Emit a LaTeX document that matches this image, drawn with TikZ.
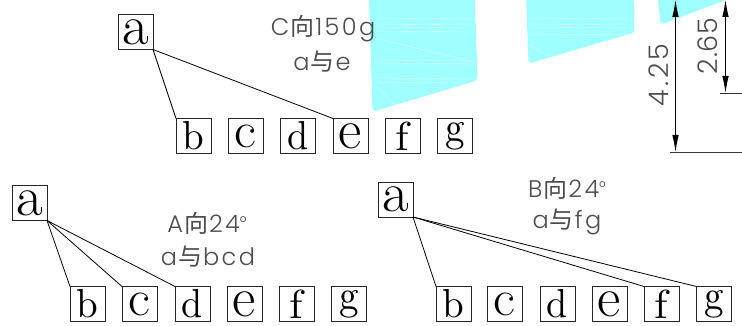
\documentclass[tikz,border=0pt]{standalone}
\usepackage{fontspec}
\usepackage{graphicx}
\newfontfamily\labfont[LetterSpace=10,UprightFont=* Light]{Poppins}
\newfontfamily\dimfont[LetterSpace=12,UprightFont=* Light]{Poppins}
\newfontfamily\dimtight[LetterSpace=3,UprightFont=* Light]{Poppins}
\newfontfamily\cjkfont{Noto Sans CJK SC}
\newcommand{\zh}[1]{{\cjkfont\hspace{1pt}#1\hspace{1pt}}}
\newcommand{\degmark}{\raisebox{4pt}{\fontsize{17}{17}\selectfont °}}
\newcommand{\thinl}{\fontsize{17.28}{17.28}\selectfont}
\newcommand{\lta}{\scalebox{3.35}[3.25]{\thinl a}}
\newcommand{\ltb}{\scalebox{3.9}[4.05]{b}}
\newcommand{\ltc}{\scalebox{3.1}[2.95]{\thinl c}}
\newcommand{\ltd}{\scalebox{3.8}[4.05]{d}}
\newcommand{\lte}{\scalebox{3.3}[3.25]{\thinl e}}
\newcommand{\ltf}{\scalebox{4.4}[4.05]{f}}
\newcommand{\ltg}{\scalebox{3.9}[4.2]{g}}
\definecolor{fillcyan}{HTML}{9FFFFF}
\definecolor{labgray}{gray}{0.3}
\usetikzlibrary{arrows.meta}
\tikzset{
  x=1pt,y=-1pt,
  letterbox/.style={draw=black!85,line width=0.8pt,minimum width=35pt,minimum height=35pt,inner sep=0pt,outer sep=0pt,text=black},
  link/.style={draw=black,line width=0.8pt},
  lab/.style={text=labgray,inner sep=0pt,font=\fontsize{24}{24}\selectfont\labfont},
  dimtext/.style={text=labgray,inner sep=0pt,rotate=90,font=\fontsize{27}{27}\selectfont\dimfont},
  sheet/.style={fill=fillcyan,draw=fillcyan,line width=1pt,rounded corners=3pt},
  streak/.style={draw=white,line width=0.35pt,opacity=0.6},
  dimline/.style={draw=black,line width=0.8pt},
  dimarrow/.style={dimline,{Latex[length=17pt,width=6.5pt]}-{Latex[length=17pt,width=6.5pt]}},
  extline/.style={draw=black!80,line width=0.8pt}
}
\begin{document}
\begin{tikzpicture}
\useasboundingbox (0,0) rectangle (742,326);
% sheets
\begin{scope}
\clip (0,0) rectangle (742,326);
\path[sheet] (369.5,-6) -- (474,-6) -- (477,80) -- (373,111) -- cycle;
\path[sheet] (526.5,-6) -- (633,-6) -- (634,32) -- (529,63) -- cycle;
\path[sheet] (658,-6) -- (742,-6) -- (724,0) -- (661,24) -- cycle;
\foreach \y in {18,24,27,31,60,63,78,82} \draw[streak] (370,\y) -- (475,\y+1);
\draw[streak] (370,37) -- (475,62);
\draw[streak] (373,84) -- (395,105);
\foreach \y in {18,24,27,34} \draw[streak] (527,\y) -- (633,\y+1);
\draw[streak] (529,45) -- (552,58);
\end{scope}
% dimensions
\coordinate (d1t) at (675.5,0);
\coordinate (d1b) at (675.5,152);
\coordinate (d2t) at (725.5,0);
\coordinate (d2b) at (725.5,93);
\coordinate (e1a) at (670,152);
\coordinate (e1b) at (742,152);
\coordinate (e2a) at (720,93);
\coordinate (e2b) at (742,93);
\draw[dimarrow] (d1t) -- (d1b);
\draw[dimarrow] (d2t) -- (d2b);
\draw[extline] (e1a) -- (e1b);
\draw[extline] (e2a) -- (e2b);
\node[dimtext] (t425) at (659,75) {4.25};
\node[dimtext,font=\fontsize{27}{27}\selectfont\dimtight] (t265) at (708,46) {2.65};
% group C
\node[letterbox] (a1) at (135.5,32) {\lta};
\node[letterbox] (b1) at (193.5,136) {\ltb};
\node[letterbox] (c1) at (245.5,136) {\ltc};
\node[letterbox] (d1) at (298,136) {\ltd};
\node[letterbox] (e1) at (350.5,136) {\lte};
\node[letterbox] (f1) at (402.5,136) {\ltf};
\node[letterbox] (g1) at (455,136) {\ltg};
\draw[link] (a1.south east) -- (b1.north west);
\draw[link] (a1.south east) -- (e1.north west);
\node[lab] (l1) at (323,29) {C\zh{向}150g};
\node[lab] (l2) at (322,62) {a\zh{与}e};
% group A
\node[letterbox] (a2) at (29.5,203) {\lta};
\node[letterbox] (b2) at (87.5,304) {\ltb};
\node[letterbox] (c2) at (139.5,304) {\ltc};
\node[letterbox] (d2) at (192.5,304) {\ltd};
\node[letterbox] (e2) at (244.5,304) {\lte};
\node[letterbox] (f2) at (296.5,304) {\ltf};
\node[letterbox] (g2) at (349,304) {\ltg};
\draw[link] (a2.south east) -- (b2.north west);
\draw[link] (a2.south east) -- (c2.north west);
\draw[link] (a2.south east) -- (d2.north west);
\node[lab] (l3) at (207,223) {A\zh{向}24\degmark};
\node[lab] (l4) at (208,257) {a\zh{与}bcd};
% group B
\node[letterbox] (a3) at (395.5,199.5) {\lta};
\node[letterbox] (b3) at (453.5,304) {\ltb};
\node[letterbox] (c3) at (504.5,304) {\ltc};
\node[letterbox] (d3) at (557.5,304) {\ltd};
\node[letterbox] (e3) at (609.5,304) {\lte};
\node[letterbox] (f3) at (661.5,304) {\ltf};
\node[letterbox] (g3) at (714,304) {\ltg};
\draw[link] (a3.south east) -- (b3.north west);
\draw[link] (a3.south east) -- (f3.north west);
\draw[link] (a3.south east) -- (g3.north west);
\node[lab] (l5) at (567,188) {B\zh{向}24\degmark};
\node[lab] (l6) at (567,222) {a\zh{与}fg};
\end{tikzpicture}
\end{document}
